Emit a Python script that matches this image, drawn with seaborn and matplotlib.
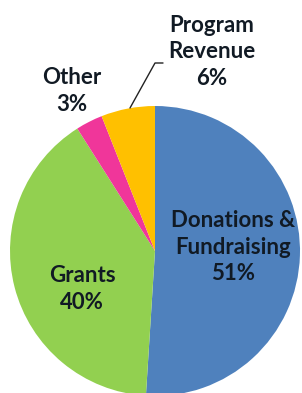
import matplotlib
matplotlib.use("Agg")
import matplotlib.pyplot as plt
import seaborn as sns

categories = ["Donations &\nFundraising", "Grants", "Other", "Program\nRevenue"]
values = [51, 40, 3, 6]
colors = ["#4F81BD", "#92D050", "#F0369A", "#FFC000"]

sns.set_theme(style="white")
plt.rcParams['font.family'] = ['Lato', 'DejaVu Sans']

W, H = 302, 393
fig = plt.figure(figsize=(W / 100, H / 100), dpi=100)
ax = fig.add_axes([0, 0, 1, 1])

cx, cy, r = 155, 251, 145
def px(x, y):
    return ((x - cx) / r, (cy - y) / r)

palette = sns.color_palette(colors)
ax.pie(values, colors=palette, startangle=90, counterclock=False,
       radius=1, wedgeprops=dict(linewidth=0))
ax.set_aspect('auto')
ax.set_xlim((0 - cx) / r, (W - cx) / r)
ax.set_ylim((cy - H) / r, (cy - 0) / r)
ax.axis('off')

txt_color = "#111a24"
fs = 16
label_pos = [(233, 247), (82, 289), (72, 91), (212, 52)]
for cat, v, (x, y) in zip(categories, values, label_pos):
    ax.text(*px(x, y), f"{cat}\n{v}%", ha='center', va='center',
            fontsize=fs, fontweight='bold', color=txt_color, linespacing=1.35)

# leader line for Program Revenue
xs, ys = zip(px(163, 63), px(155, 63), px(130, 108))
ax.plot(xs, ys, color="#222222", lw=1)

fig.savefig("out.png", dpi=100)
